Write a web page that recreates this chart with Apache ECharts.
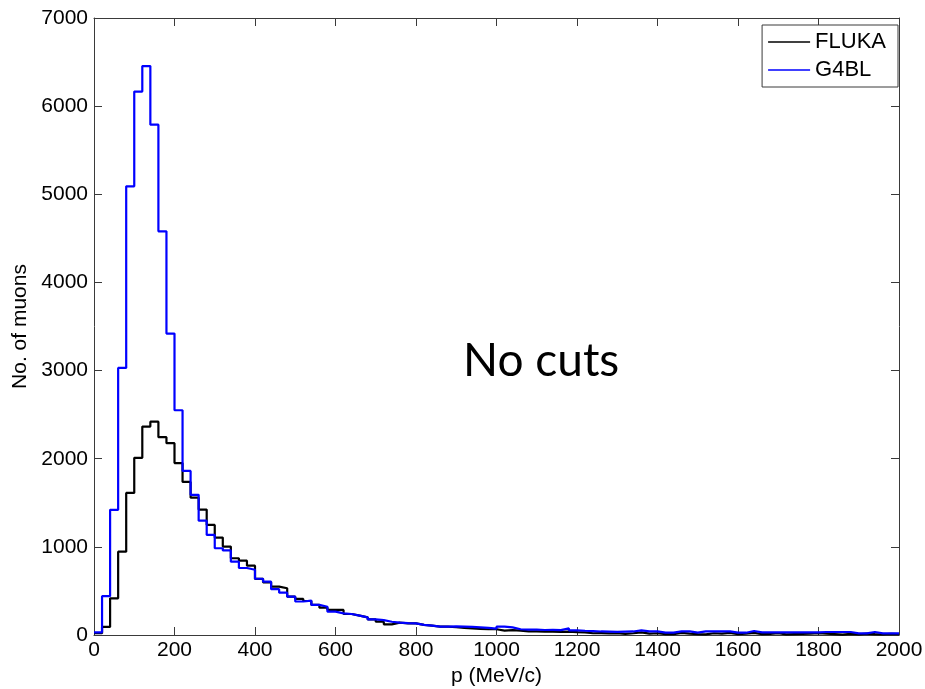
<!DOCTYPE html>
<html>
<head>
<meta charset="utf-8">
<script src="https://cdn.jsdelivr.net/npm/echarts@6/dist/echarts.min.js"></script>
<style>
  html, body { margin: 0; padding: 0; background: #fff; }
  #chart { width: 925px; height: 689px; }
</style>
</head>
<body>
<div id="chart"></div>
<script>
// Momentum histogram, 20 MeV/c bins from 0 to 2000 MeV/c
const BIN_WIDTH = 20;

const fluka = [
  20, 92, 416, 945, 1612, 2010, 2365, 2420, 2244, 2176,
  1950, 1737, 1558, 1423, 1249, 1105, 1003, 871, 843, 787,
  636, 598, 549, 530, 435, 409, 386, 341, 310, 284,
  284, 238, 219, 200, 177, 151, 121, 140, 132, 132,
  114, 106, 95, 95, 88, 80, 75, 70, 65, 65,
  50, 55, 50, 42, 40, 38, 38, 36, 38, 33,
  30, 20, 22, 18, 20, 12, 20, 30, 15, 20,
  10, 10, 25, 15, 10, 8, 20, 15, 25, 10,
  15, 25, 10, 12, 20, 8, 10, 12, 15, 20,
  15, 10, 5, 12, 8, 15, 10, 8, 12, 10
];

const g4bl = [
  30, 440, 1420, 3030, 5090, 6165, 6455, 5790, 4580, 3420,
  2550, 1862, 1590, 1297, 1135, 984, 960, 832, 760, 740,
  638, 605, 520, 480, 435, 380, 390, 341, 321, 265,
  246, 238, 219, 200, 177, 168, 150, 140, 135, 132,
  114, 106, 95, 95, 97, 95, 92, 87, 80, 72,
  95, 87, 65, 62, 60, 57, 58, 55, 75, 52,
  48, 45, 40, 38, 35, 38, 40, 53, 42, 42,
  26, 26, 42, 42, 26, 42, 42, 42, 42, 26,
  26, 45, 30, 30, 30, 30, 30, 30, 30, 30,
  34, 34, 34, 34, 19, 19, 34, 19, 19, 19
];

const xTicks = [0, 200, 400, 600, 800, 1000, 1200, 1400, 1600, 1800, 2000];
const yTicks = [0, 1000, 2000, 3000, 4000, 5000, 6000, 7000];

// stair points: each bin's left edge, plus the closing right edge
function stairs(counts) {
  const pts = counts.map((v, i) => [i * BIN_WIDTH, v]);
  pts.push([counts.length * BIN_WIDTH, counts[counts.length - 1]]);
  return pts;
}

const FONT = '"Liberation Sans", Arial, Helvetica, sans-serif';
const AXIS_COLOR = '#3a3a3a';
const plain = v => String(v);

const xBase = {
  type: 'value',
  min: xTicks[0],
  max: xTicks[xTicks.length - 1],
  interval: xTicks[1] - xTicks[0],
  splitLine: { show: false },
  axisLine: { show: true, onZero: false, lineStyle: { color: AXIS_COLOR, width: 1 } },
  axisTick: { show: true, inside: true, length: 8, lineStyle: { color: AXIS_COLOR } }
};
const yBase = {
  type: 'value',
  min: yTicks[0],
  max: yTicks[yTicks.length - 1],
  interval: yTicks[1] - yTicks[0],
  splitLine: { show: false },
  axisLine: { show: true, onZero: false, lineStyle: { color: AXIS_COLOR, width: 1 } },
  axisTick: { show: true, inside: true, length: 8, lineStyle: { color: AXIS_COLOR } }
};

const chart = echarts.init(document.getElementById('chart'), null, { renderer: 'canvas' });

chart.setOption({
  animation: false,
  backgroundColor: '#fff',
  textStyle: { fontFamily: FONT },
  grid: { left: 94, right: 26, top: 18, bottom: 54, containLabel: false, outerBoundsMode: 'none' },
  xAxis: [
    Object.assign({}, xBase, {
      position: 'bottom',
      name: 'p (MeV/c)',
      nameLocation: 'middle',
      nameGap: 30,
      nameTextStyle: { color: '#000', fontSize: 21, fontFamily: FONT },
      axisLabel: { show: true, color: '#000', fontSize: 21, fontFamily: FONT, margin: 5, formatter: plain }
    }),
    Object.assign({}, xBase, {
      position: 'top',
      axisLabel: { show: false }
    })
  ],
  yAxis: [
    Object.assign({}, yBase, {
      position: 'left',
      name: 'No. of muons',
      nameLocation: 'middle',
      nameGap: 63,
      nameRotate: 90,
      nameTextStyle: { color: '#000', fontSize: 21, fontFamily: FONT },
      axisLabel: { show: true, color: '#000', fontSize: 21, fontFamily: FONT, margin: 6, formatter: plain }
    }),
    Object.assign({}, yBase, {
      position: 'right',
      axisLabel: { show: false }
    })
  ],
  legend: {
    show: true,
    orient: 'vertical',
    right: 27,
    top: 25,
    backgroundColor: '#fff',
    borderColor: AXIS_COLOR,
    borderWidth: 1,
    borderRadius: 0,
    padding: [6, 12, 6, 6],
    itemGap: 6,
    itemWidth: 42,
    itemHeight: 1.5,
    icon: 'rect',
    textStyle: { color: '#000', fontSize: 22, fontFamily: FONT },
    data: [
      { name: 'FLUKA', itemStyle: { color: '#000' } },
      { name: 'G4BL', itemStyle: { color: '#0000ff' } }
    ]
  },
  graphic: [
    {
      type: 'text',
      left: 463,
      top: 338,
      style: {
        text: 'No cuts',
        fill: '#000',
        fontSize: 46,
        fontFamily: 'Lato, "Open Sans", sans-serif'
      }
    }
  ],
  series: [
    {
      name: 'FLUKA',
      type: 'line',
      step: 'end',
      data: stairs(fluka),
      showSymbol: false,
      symbol: 'none',
      lineStyle: { color: '#000', width: 2.2 },
      itemStyle: { color: '#000' },
      z: 2
    },
    {
      name: 'G4BL',
      type: 'line',
      step: 'end',
      data: stairs(g4bl),
      showSymbol: false,
      symbol: 'none',
      lineStyle: { color: '#0000ff', width: 2.2 },
      itemStyle: { color: '#0000ff' },
      z: 3
    }
  ]
});
</script>
</body>
</html>
